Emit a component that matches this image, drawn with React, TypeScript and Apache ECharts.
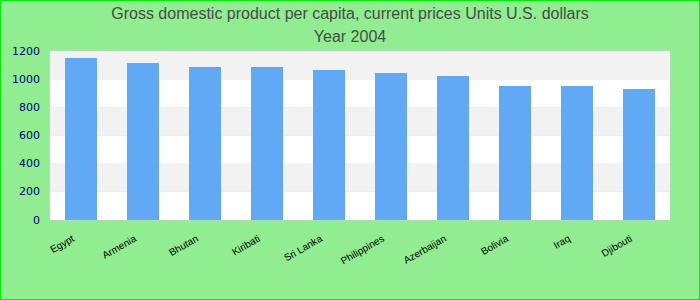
import React, { useEffect, useRef } from "react";
import * as echarts from "echarts";

const titleLines = [
  "Gross domestic product per capita, current prices Units U.S. dollars",
  "Year 2004",
];
const countries = [
  "Egypt",
  "Armenia",
  "Bhutan",
  "Kiribati",
  "Sri Lanka",
  "Philippines",
  "Azerbaijan",
  "Bolivia",
  "Iraq",
  "Djibouti",
];
const gdpValues = [1150, 1115, 1087, 1087, 1065, 1044, 1023, 952, 952, 930];
const yTicks = { min: 0, max: 1200, interval: 200 };

export default function App() {
  const ref = useRef<HTMLDivElement>(null);
  useEffect(() => {
    document.body.style.margin = "0";
    const chart = echarts.init(ref.current!, null, { renderer: "svg" });
    chart.setOption({
      animation: false,
      backgroundColor: "#90ee90",
      title: {
        text: titleLines.join("\n"),
        left: "center",
        top: -4,
        textStyle: {
          fontFamily: "Liberation Sans",
          fontSize: 16,
          fontWeight: "normal",
          color: "#4a4a4a",
          lineHeight: 23,
        },
      },
      grid: { left: 49, right: 29, top: 50, bottom: 79, show: true, borderColor: "#cccccc", borderWidth: 1 },
      xAxis: {
        type: "category",
        data: countries,
        axisLine: { show: false },
        axisTick: { show: false },
        axisLabel: {
          rotate: 30,
          interval: 0,
          fontFamily: "Liberation Sans",
          fontSize: 10,
          color: "#000",
          margin: 13,
          padding: [0, 9, 0, 0],
        },
      },
      yAxis: {
        type: "value",
        min: yTicks.min,
        max: yTicks.max,
        interval: yTicks.interval,
        axisLine: { show: false },
        axisTick: { show: false },
        splitLine: { show: false },
        splitArea: { show: true, areaStyle: { color: ["#ffffff", "#f2f2f2"] } },
        axisLabel: {
          fontFamily: "DejaVu Sans",
          fontSize: 11,
          color: "#000080",
          margin: 10,
          formatter: (v: number) => String(v),
        },
      },
      series: [
        {
          type: "bar",
          data: gdpValues,
          barWidth: 32,
          itemStyle: { color: "#62a9f5" },
        },
      ],
    });
    return () => chart.dispose();
  }, []);
  return (
    <div
      ref={ref}
      style={{ width: 700, height: 300, boxSizing: "border-box", border: "1px solid #00ee00" }}
    />
  );
}
